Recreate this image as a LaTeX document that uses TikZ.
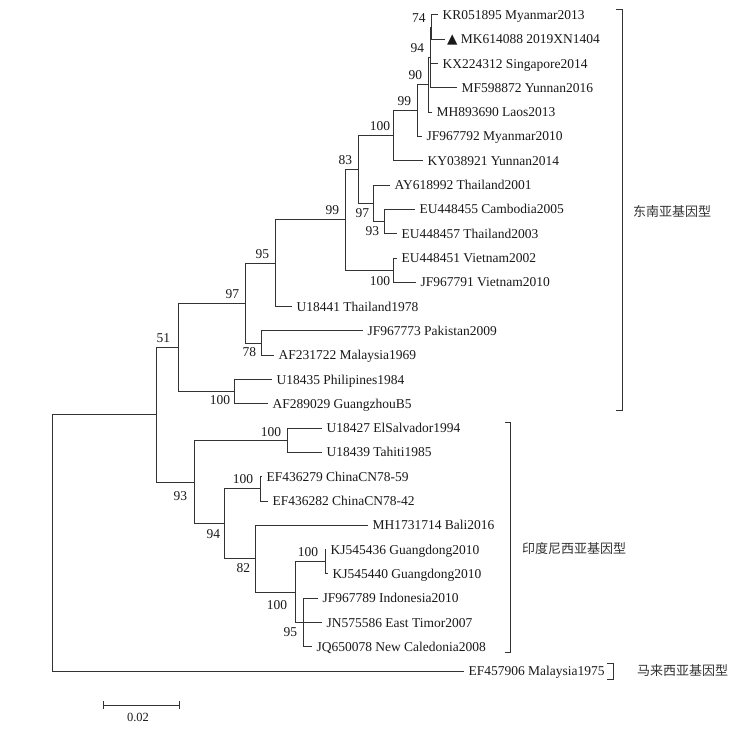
\documentclass[tikz,border=0pt]{standalone}
\usepackage{fontspec}
\setmainfont{Liberation Serif}
\newfontfamily\cjkfont{Noto Sans CJK SC}
\newfontfamily\trifont{DejaVu Sans}
\usetikzlibrary{positioning}

\begin{document}
\begin{tikzpicture}[x=1pt, y=-1pt,
  tip/.style={anchor=west, inner xsep=4.5pt, inner ysep=0pt, outer sep=0pt, text height=9pt, text depth=0pt, text=black!90, font=\fontsize{13.5}{15}\selectfont},
  boot/.style={inner sep=0pt, outer sep=0pt, text height=9pt, text depth=0pt, text=black!90, font=\fontsize{13.5}{15}\selectfont},
  br/.style={line width=1pt, draw=black!80},
  clade/.style={anchor=west, inner sep=0pt, text=black!80, font=\cjkfont\fontsize{13}{15}\selectfont}]
\useasboundingbox (0,0) rectangle (751,730);

% tips
\node[tip] (kr) at (438,15.0) {KR051895 Myanmar2013};
\node[tip, inner xsep=2pt] (mk) at (445,39.3) {{\trifont ▲} MK614088 2019XN1404};
\node[tip] (kx) at (438,63.6) {KX224312 Singapore2014};
\node[tip] (mf) at (457,87.9) {MF598872 Yunnan2016};
\node[tip] (mha) at (432,112.2) {MH893690 Laos2013};
\node[tip] (jfa) at (422,136.5) {JF967792 Myanmar2010};
\node[tip] (ky) at (423,160.8) {KY038921 Yunnan2014};
\node[tip] (ay) at (390,185.1) {AY618992 Thailand2001};
\node[tip] (eua) at (415,209.4) {EU448455 Cambodia2005};
\node[tip] (eub) at (397,233.7) {EU448457 Thailand2003};
\node[tip] (euc) at (397,258.0) {EU448451 Vietnam2002};
\node[tip] (jfb) at (416,282.3) {JF967791 Vietnam2010};
\node[tip] (ua) at (292,306.6) {U18441 Thailand1978};
\node[tip] (jfc) at (363,330.9) {JF967773 Pakistan2009};
\node[tip] (afa) at (274,355.2) {AF231722 Malaysia1969};
\node[tip] (ub) at (272,379.5) {U18435 Philipines1984};
\node[tip] (afb) at (268,403.8) {AF289029 GuangzhouB5};
\node[tip] (uc) at (322,428.1) {U18427 ElSalvador1994};
\node[tip] (ud) at (322,452.4) {U18439 Tahiti1985};
\node[tip] (efa) at (262,476.7) {EF436279 ChinaCN78-59};
\node[tip] (efb) at (268,501.0) {EF436282 ChinaCN78-42};
\node[tip] (mhb) at (368,525.3) {MH1731714 Bali2016};
\node[tip] (kja) at (326,549.6) {KJ545436 Guangdong2010};
\node[tip] (kjb) at (328,573.9) {KJ545440 Guangdong2010};
\node[tip] (jfd) at (318,598.2) {JF967789 Indonesia2010};
\node[tip] (jn) at (322,622.5) {JN575586 East Timor2007};
\node[tip] (jq) at (312,646.8) {JQ650078 New Caledonia2008};
\node[tip] (efc) at (464,671.1) {EF457906 Malaysia1975};

% inner nodes
\coordinate (n74) at (431.5,27.15);
\coordinate (n94) at (430,57.5);
\coordinate (n90) at (428,84.85);
\coordinate (n99a) at (417,110.7);
\coordinate (n100a) at (393,135.75);
\coordinate (n93a) at (384,221.55);
\coordinate (n97a) at (373,203.3);
\coordinate (n83) at (358,169.5);
\coordinate (n100b) at (393,270.15);
\coordinate (n99b) at (345,219.8);
\coordinate (n95a) at (275,263.2);
\coordinate (n78) at (261,343.05);
\coordinate (n97b) at (245,303.1);
\coordinate (n100c) at (234,391.65);
\coordinate (n51) at (178,347.4);
\coordinate (n100d) at (287,440.25);
\coordinate (n100e) at (260,488.85);
\coordinate (n100f) at (325,561.75);
\coordinate (n95b) at (303,622.5);
\coordinate (n100g) at (295,592.1);
\coordinate (n82) at (255,558.7);
\coordinate (n94b) at (224,523.8);
\coordinate (n93b) at (194,482);
\coordinate (nA) at (156,414.7);
\coordinate (root) at (52,542.9);

% branches
\draw[br] (n74) |- (kr.west) (n74) |- (mk.west);
\draw[br] (n94) |- (n74) (n94) |- (kx.west) (n94) |- (mf.west);
\draw[br] (n90) |- (n94) (n90) |- (mha.west);
\draw[br] (n99a) |- (n90) (n99a) |- (jfa.west);
\draw[br] (n100a) |- (n99a) (n100a) |- (ky.west);
\draw[br] (n93a) |- (eua.west) (n93a) |- (eub.west);
\draw[br] (n97a) |- (ay.west) (n97a) |- (n93a);
\draw[br] (n83) |- (n100a) (n83) |- (n97a);
\draw[br] (n100b) |- (euc.west) (n100b) |- (jfb.west);
\draw[br] (n99b) |- (n83) (n99b) |- (n100b);
\draw[br] (n95a) |- (n99b) (n95a) |- (ua.west);
\draw[br] (n78) |- (jfc.west) (n78) |- (afa.west);
\draw[br] (n97b) |- (n95a) (n97b) |- (n78);
\draw[br] (n100c) |- (ub.west) (n100c) |- (afb.west);
\draw[br] (n51) |- (n97b) (n51) |- (n100c);
\draw[br] (n100d) |- (uc.west) (n100d) |- (ud.west);
\draw[br] (n100e) |- (efa.west) (n100e) |- (efb.west);
\draw[br] (n100f) |- (kja.west) (n100f) |- (kjb.west);
\draw[br] (n95b) |- (jfd.west) (n95b) |- (jn.west) (n95b) |- (jq.west);
\draw[br] (n100g) |- (n100f) (n100g) |- (n95b);
\draw[br] (n82) |- (mhb.west) (n82) |- (n100g);
\draw[br] (n94b) |- (n100e) (n94b) |- (n82);
\draw[br] (n93b) |- (n100d) (n93b) |- (n94b);
\draw[br] (nA) |- (n51) (nA) |- (n93b);
\draw[br] (root) |- (nA) (root) |- (efc.west);

% bootstrap values
\node[boot, above left=5pt and 6pt of n74] (b74) {74};
\node[boot, above left=5pt and 6pt of n94] (b94) {94};
\node[boot, above left=5pt and 6pt of n90] (b90) {90};
\node[boot, above left=5pt and 6pt of n99a] (b99a) {99};
\node[boot, above left=5pt and 3pt of n100a] (b100a) {100};
\node[boot, above left=5pt and 6pt of n83] (b83) {83};
\node[boot, above left=5pt and 6pt of n99b] (b99b) {99};
\node[boot, above left=5pt and 6pt of n95a] (b95a) {95};
\node[boot, above left=5pt and 6pt of n97b] (b97b) {97};
\node[boot, above left=5pt and 8pt of n51] (b51) {51};
\node[boot, above left=4pt and 6pt of n100d] (b100d) {100};
\node[boot, above left=5pt and 7pt of n100e] (b100e) {100};
\node[boot, above left=5pt and 7pt of n100f] (b100f) {100};
\node[boot, below left=5pt and 4pt of n97a] (b97a) {97};
\node[boot, below left=5pt and 5pt of n93a] (b93a) {93};
\node[boot, below left=6pt and 3pt of n100b] (b100b) {100};
\node[boot, below left=4pt and 5pt of n78] (b78) {78};
\node[boot, below left=4pt and 4pt of n100c] (b100c) {100};
\node[boot, below left=9pt and 7pt of n93b] (b93b) {93};
\node[boot, below left=6pt and 4pt of n94b] (b94b) {94};
\node[boot, below left=5pt and 5pt of n82] (b82) {82};
\node[boot, below left=8pt and 8pt of n100g] (b100g) {100};
\node[boot, below left=5pt and 6pt of n95b] (b95b) {95};

% genotype brackets
\draw[br, line width=0.8pt] (616,9) -- (622,9) -- (622,410) -- (616,410);
\draw[br, line width=0.8pt] (505,422) -- (510,422) -- (510,652) -- (505,652);
\draw[br, line width=0.8pt] (607,663) -- (613,663) -- (613,679) -- (607,679);
\node[clade] (gsea) at (633,212) {东南亚基因型};
\node[clade] (gind) at (522,549) {印度尼西亚基因型};
\node[clade] (gmal) at (637,671) {马来西亚基因型};

% scale bar
\coordinate (sb0) at (103,705);
\coordinate (sb1) at (179,705);
\draw[br] (sb0) -- (sb1);
\draw[br] ([yshift=4pt]sb0) -- ([yshift=-4pt]sb0);
\draw[br] ([yshift=4pt]sb1) -- ([yshift=-4pt]sb1);
\node[boot, font=\fontsize{12.5}{14}\selectfont, anchor=north] (sbl) at (138,712) {0.02};
\end{tikzpicture}
\end{document}
